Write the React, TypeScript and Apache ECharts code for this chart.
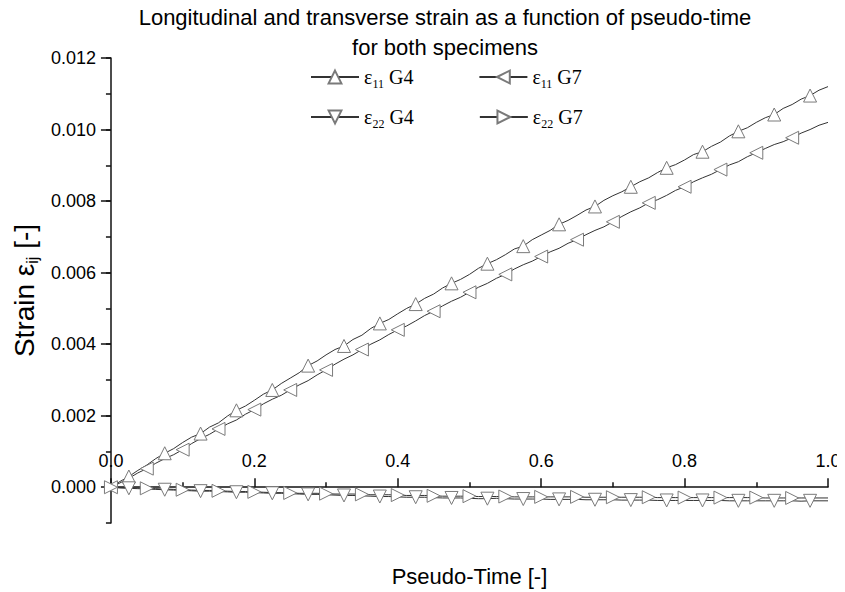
import React, { useEffect, useRef } from "react";
import * as echarts from "echarts";

// Pseudo-time samples
const pseudoTime = [
  0, 0.0125, 0.025, 0.0375, 0.05, 0.0625, 0.075, 0.0875, 0.1, 0.1125,
  0.125, 0.1375, 0.15, 0.1625, 0.175, 0.1875, 0.2, 0.2125, 0.225, 0.2375,
  0.25, 0.2625, 0.275, 0.2875, 0.3, 0.3125, 0.325, 0.3375, 0.35, 0.3625,
  0.375, 0.3875, 0.4, 0.4125, 0.425, 0.4375, 0.45, 0.4625, 0.475, 0.4875,
  0.5, 0.5125, 0.525, 0.5375, 0.55, 0.5625, 0.575, 0.5875, 0.6, 0.6125,
  0.625, 0.6375, 0.65, 0.6625, 0.675, 0.6875, 0.7, 0.7125, 0.725, 0.7375,
  0.75, 0.7625, 0.775, 0.7875, 0.8, 0.8125, 0.825, 0.8375, 0.85, 0.8625,
  0.875, 0.8875, 0.9, 0.9125, 0.925, 0.9375, 0.95, 0.9625, 0.975, 0.9875,
  1.0,
];

// Strain values in units of 10^-3
const eps11G4 = [
  0, 0.16, 0.3, 0.47, 0.62, 0.8, 0.95, 1.08, 1.25, 1.4,
  1.5, 1.68, 1.8, 1.99, 2.15, 2.27, 2.43, 2.6, 2.72, 2.9,
  3.05, 3.2, 3.4, 3.53, 3.7, 3.85, 3.95, 4.13, 4.25, 4.44,
  4.58, 4.69, 4.85, 5.0, 5.12, 5.28, 5.4, 5.57, 5.7, 5.81,
  5.95, 6.12, 6.25, 6.36, 6.5, 6.66, 6.74, 6.92, 7.05, 7.18,
  7.35, 7.46, 7.6, 7.75, 7.85, 8.02, 8.15, 8.26, 8.4, 8.54,
  8.65, 8.8, 8.93, 9.02, 9.15, 9.3, 9.38, 9.53, 9.65, 9.82,
  9.95, 10.05, 10.2, 10.33, 10.42, 10.59, 10.7, 10.85, 10.95, 11.1,
  11.2,
];
const eps11G7 = [
  0, 0.12, 0.25, 0.4, 0.52, 0.67, 0.8, 0.91, 1.05, 1.22,
  1.36, 1.48, 1.63, 1.77, 1.88, 2.04, 2.17, 2.33, 2.46, 2.57,
  2.72, 2.86, 2.98, 3.14, 3.28, 3.44, 3.58, 3.7, 3.85, 4.0,
  4.12, 4.27, 4.4, 4.51, 4.65, 4.8, 4.92, 5.07, 5.2, 5.31,
  5.45, 5.59, 5.7, 5.84, 5.95, 6.1, 6.22, 6.32, 6.45, 6.58,
  6.68, 6.82, 6.92, 7.06, 7.18, 7.28, 7.42, 7.57, 7.7, 7.81,
  7.95, 8.04, 8.16, 8.3, 8.4, 8.54, 8.65, 8.75, 8.88, 9.01,
  9.1, 9.24, 9.35, 9.47, 9.58, 9.66, 9.77, 9.9, 10.0, 10.12,
  10.2,
];
const eps22G4 = [
  0, -0.02, -0.03, -0.04, -0.05, -0.06, -0.07, -0.08, -0.09, -0.1,
  -0.11, -0.11, -0.12, -0.13, -0.14, -0.14, -0.15, -0.16, -0.17, -0.17,
  -0.18, -0.19, -0.2, -0.2, -0.21, -0.22, -0.23, -0.23, -0.24, -0.25,
  -0.26, -0.26, -0.27, -0.28, -0.28, -0.28, -0.29, -0.3, -0.3, -0.3,
  -0.31, -0.32, -0.32, -0.31, -0.32, -0.33, -0.33, -0.33, -0.33, -0.34,
  -0.34, -0.34, -0.34, -0.35, -0.35, -0.35, -0.35, -0.36, -0.36, -0.36,
  -0.36, -0.37, -0.37, -0.37, -0.37, -0.37, -0.37, -0.37, -0.37, -0.38,
  -0.38, -0.38, -0.38, -0.38, -0.38, -0.38, -0.38, -0.39, -0.38, -0.38,
  -0.38,
];
const eps22G7 = [
  0, -0.01, -0.02, -0.02, -0.03, -0.04, -0.05, -0.06, -0.07, -0.08,
  -0.09, -0.09, -0.1, -0.11, -0.12, -0.12, -0.13, -0.14, -0.15, -0.15,
  -0.16, -0.17, -0.17, -0.17, -0.18, -0.19, -0.19, -0.19, -0.2, -0.21,
  -0.21, -0.21, -0.22, -0.23, -0.23, -0.23, -0.24, -0.25, -0.25, -0.25,
  -0.25, -0.26, -0.26, -0.26, -0.26, -0.27, -0.27, -0.27, -0.27, -0.27,
  -0.27, -0.27, -0.27, -0.28, -0.28, -0.28, -0.28, -0.28, -0.28, -0.28,
  -0.28, -0.29, -0.29, -0.29, -0.29, -0.29, -0.29, -0.29, -0.29, -0.29,
  -0.29, -0.29, -0.29, -0.3, -0.3, -0.3, -0.3, -0.3, -0.3, -0.3,
  -0.3,
];

const seriesNames = ["ε11 G4", "ε11 G7", "ε22 G4", "ε22 G7"];
const legendLabels: Record<string, string> = {
  "ε11 G4": "ε{s|11} G4",
  "ε11 G7": "ε{s|11} G7",
  "ε22 G4": "ε{s|22} G4",
  "ε22 G7": "ε{s|22} G7",
};

const xTicks = [0, 0.2, 0.4, 0.6, 0.8, 1.0];
const yMajorTicks = [0, 0.002, 0.004, 0.006, 0.008, 0.01, 0.012];
const yMinorTicks = [
  -0.001, 0, 0.001, 0.002, 0.003, 0.004, 0.005, 0.006, 0.007, 0.008, 0.009, 0.01, 0.011, 0.012,
];

const SANS = "Liberation Sans, Arial, sans-serif";
const SERIF = "Liberation Serif, Times New Roman, serif";

export default function App() {
  const ref = useRef<HTMLDivElement>(null);

  useEffect(() => {
    if (!ref.current) return;
    const chart = echarts.init(ref.current, null, { renderer: "svg" });

    const toPairs = (vals: number[]) => vals.map((v, i) => [pseudoTime[i], v * 1e-3]);

    const makeSeries = (name: string, vals: number[], rotate: number, odd: boolean) => ({
      name,
      type: "line",
      yAxisIndex: 0,
      data: toPairs(vals),
      symbol: "triangle",
      symbolRotate: rotate,
      showAllSymbol: true,
      symbolSize: (_v: any, p: any) => {
        const i = p.dataIndex;
        if (odd) return i % 4 === 2 ? 13 : 0;
        return i % 4 === 0 && i < vals.length - 1 ? 13 : 0;
      },
      lineStyle: { color: "#333333", width: 1 },
      itemStyle: { color: "#ffffff", borderColor: "#7a7a7a", borderWidth: 1 },
      emphasis: { disabled: true },
      z: 3,
    });

    const legendCommon = {
      left: 310,
      orient: "horizontal",
      itemWidth: 48,
      itemHeight: 16,
      itemGap: 65,
      padding: 0,
      selectedMode: false,
      symbolRotate: "inherit",
      formatter: (name: string) => legendLabels[name] || name,
      textStyle: {
        fontFamily: SERIF,
        fontSize: 20,
        color: "#000",
        lineHeight: 26,
        rich: {
          s: { fontFamily: SERIF, fontSize: 12, lineHeight: 12, verticalAlign: "bottom", color: "#000" },
        },
      },
    };

    chart.setOption({
      animation: false,
      backgroundColor: "#ffffff",
      title: {
        text: "Longitudinal and transverse strain as a function of pseudo-time\nfor both specimens",
        left: 445,
        top: 2,
        padding: 0,
        textAlign: "center",
        textStyle: {
          fontFamily: SANS,
          fontSize: 22,
          fontWeight: "normal",
          color: "#000",
          lineHeight: 30,
        },
      },
      legend: [
        { ...legendCommon, top: 64, data: [seriesNames[0], seriesNames[1]] },
        { ...legendCommon, top: 104, data: [seriesNames[2], seriesNames[3]] },
      ],
      grid: { left: 107, right: 17, top: 58, bottom: 27, containLabel: false },
      xAxis: {
        type: "value",
        min: 0,
        max: 1,
        interval: 0.2,
        name: "Pseudo-Time [-]",
        nameLocation: "middle",
        nameGap: 42,
        nameTextStyle: { fontFamily: SANS, fontSize: 22, color: "#000" },
        axisLine: { show: true, onZero: true, lineStyle: { color: "#111", width: 1.5 } },
        axisTick: { show: true, inside: true, length: 9, lineStyle: { color: "#111", width: 1.5 } },
        minorTick: { show: true, splitNumber: 2, length: 5, lineStyle: { color: "#111", width: 1.5 } },
        axisLabel: {
          inside: true,
          margin: 53,
          verticalAlign: "bottom",
          fontFamily: SANS,
          fontSize: 18,
          color: "#000",
          customValues: xTicks,
          formatter: (v: number) => v.toFixed(1),
        },
        splitLine: { show: false },
        minorSplitLine: { show: false },
      },
      yAxis: [
        {
          type: "value",
          min: -0.001,
          max: 0.012,
          position: "left",
          name: "Strain ε{s|ij} [-]",
          nameLocation: "middle",
          nameGap: 69,
          nameTextStyle: {
            fontFamily: SANS,
            fontSize: 28,
            color: "#000",
            lineHeight: 32,
            rich: {
              s: { fontFamily: SANS, fontSize: 16, lineHeight: 16, verticalAlign: "bottom", color: "#000" },
            },
          },
          axisLine: { show: true, onZero: false, lineStyle: { color: "#111", width: 1.5 } },
          axisTick: {
            show: true,
            inside: false,
            length: 5,
            customValues: yMinorTicks,
            lineStyle: { color: "#111", width: 1.5 },
          },
          axisLabel: {
            margin: 15,
            fontFamily: SANS,
            fontSize: 18,
            color: "#000",
            customValues: yMajorTicks,
            formatter: (v: number) => v.toFixed(3),
          },
          splitLine: { show: false },
        },
        {
          type: "value",
          min: -0.001,
          max: 0.012,
          position: "left",
          axisLine: { show: false, onZero: false },
          axisTick: {
            show: true,
            inside: false,
            length: 10,
            customValues: yMajorTicks,
            lineStyle: { color: "#111", width: 1.5 },
          },
          axisLabel: { show: false },
          splitLine: { show: false },
        },
      ],
      series: [
        makeSeries(seriesNames[0], eps11G4, 0, true),
        makeSeries(seriesNames[1], eps11G7, 90, false),
        makeSeries(seriesNames[2], eps22G4, 180, true),
        makeSeries(seriesNames[3], eps22G7, -90, false),
      ],
    });

    return () => chart.dispose();
  }, []);

  return <div ref={ref} style={{ width: 845, height: 592, marginLeft: -8, marginTop: -8 }} />;
}
